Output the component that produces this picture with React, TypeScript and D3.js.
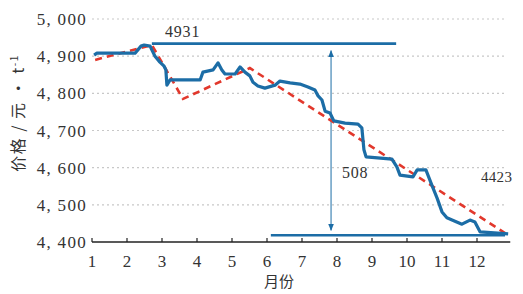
import * as d3 from 'd3';

// 月份 / 价格 (元·t^-1) — 实际价格走势
const priceMonths = [1.06, 1.14, 2.23, 2.31, 2.4, 2.49, 2.66, 2.71, 2.8, 2.94, 3.06, 3.11, 3.14, 3.23, 4.09, 4.17, 4.46, 4.6, 4.71, 4.8, 5.09, 5.23, 5.37, 5.51, 5.6, 5.74, 5.94, 6.23, 6.37, 6.66, 6.94, 7.17, 7.37, 7.46, 7.57, 7.66, 7.8, 7.91, 8.23, 8.6, 8.71, 8.77, 8.83, 9.57, 9.71, 9.8, 10.17, 10.29, 10.54, 10.71, 10.86, 11.0, 11.14, 11.37, 11.57, 11.8, 11.94, 12.09, 12.89];
const priceValues = [4903, 4908, 4908, 4917, 4927, 4930, 4927, 4917, 4900, 4884, 4873, 4863, 4822, 4836, 4836, 4857, 4863, 4882, 4863, 4852, 4852, 4871, 4857, 4847, 4830, 4820, 4814, 4822, 4833, 4828, 4825, 4817, 4809, 4793, 4782, 4752, 4747, 4726, 4720, 4717, 4707, 4648, 4629, 4623, 4602, 4580, 4575, 4594, 4594, 4553, 4518, 4481, 4465, 4456, 4448, 4459, 4454, 4427, 4422];

// 趋势线 (红色虚线)
const trendMonths = [1.09, 2.71, 3.6, 5.51, 12.8];
const trendValues = [4890, 4930, 4785, 4868, 4424];

const yTicks = [4400, 4500, 4600, 4700, 4800, 4900, 5000];
const xTicks = [1, 2, 3, 4, 5, 6, 7, 8, 9, 10, 11, 12];

// 标注
const maxValue = 4931;
const maxSpan = [2.71, 9.69];
const minValue = 4418;
const minSpan = [6.11, 12.8];
const diffMonth = 7.83;
const diffLabel = '508';
const endLabel = '4423';

const BLUE = '#1c6da6';
const RED = '#e2382c';
const TEXT = '#333';
const serif = 'Liberation Serif, DejaVu Serif, Times New Roman, serif';
const cjk = 'Noto Sans CJK SC, sans-serif';

const fmt = (v: number) => d3.format(',')(v).replace(',', ', ');

export default function App() {
  const x = d3.scaleLinear().domain([1, 12]).range([92, 477]);
  const y = d3.scaleLinear().domain([4400, 5000]).range([242, 19]);
  const xEnd = x(12.95);

  const price = priceMonths.map((m, i) => [m, priceValues[i]] as [number, number]);
  const trend = trendMonths.map((m, i) => [m, trendValues[i]] as [number, number]);
  const line = d3.line<[number, number]>().x(d => x(d[0])).y(d => y(d[1]));

  const ax = x(diffMonth);
  const topY = y(maxValue) + 4;
  const botY = y(minValue) - 5;

  return (
    <svg width={523} height={294} style={{ position: 'absolute', left: 0, top: 0, background: '#fff' }}>
      <defs>
        <marker id="ah" viewBox="0 0 10 10" refX="9" refY="5" markerWidth="7" markerHeight="9" orient="auto-start-reverse" markerUnits="userSpaceOnUse">
          <path d="M0,1 L10,5 L0,9 Z" fill={BLUE} />
        </marker>
      </defs>
      {/* 网格线 */}
      {yTicks.filter(t => t > 4400).map(t => (
        <line key={t} x1={x(1)} x2={507} y1={y(t)} y2={y(t)} stroke="#c8c8c8" strokeWidth={1.2} strokeDasharray="2,3" />
      ))}
      {/* Y 轴刻度标签 */}
      {yTicks.map(t => (
        <text key={t} x={87} y={y(t) + 6} textAnchor="end" style={{ fontFamily: serif, fontSize: 17, letterSpacing: 1.3 }} fill={TEXT}>{fmt(t)}</text>
      ))}
      {/* X 轴 */}
      <line x1={x(1)} x2={xEnd} y1={y(4400)} y2={y(4400)} stroke="#222" strokeWidth={1.6} />
      {xTicks.map(t => (
        <g key={t}>
          <line x1={x(t)} x2={x(t)} y1={y(4400)} y2={y(4400) - 4} stroke="#222" strokeWidth={1.2} />
          <text x={x(t)} y={267} textAnchor="middle" style={{ fontFamily: serif, fontSize: 17 }} fill={TEXT}>{t}</text>
        </g>
      ))}
      <text x={279} y={287} textAnchor="middle" style={{ fontFamily: cjk, fontSize: 15 }} fill={TEXT}>月份</text>
      <text transform="translate(24,113) rotate(-90)" textAnchor="middle" style={{ fontFamily: cjk, fontSize: 16, letterSpacing: 1.5 }} fill={TEXT}>
        价格 / 元 · t<tspan style={{ fontSize: 10 }} dy={-6}>-1</tspan>
      </text>

      {/* 最高 / 最低 水平线 */}
      <line x1={x(maxSpan[0])} x2={x(maxSpan[1])} y1={y(maxValue) - 1} y2={y(maxValue) - 1} stroke={BLUE} strokeWidth={2.6} />
      <line x1={x(minSpan[0])} x2={x(minSpan[1])} y1={y(minValue)} y2={y(minValue)} stroke={BLUE} strokeWidth={2.4} />
      <line x1={ax} x2={ax} y1={topY + 2} y2={botY} stroke={BLUE} strokeWidth={1} markerStart="url(#ah)" markerEnd="url(#ah)" />

      {/* 趋势线 */}
      <path d={line(trend) || ''} fill="none" stroke={RED} strokeWidth={2.6} strokeDasharray="7,5" />
      {/* 价格 */}
      <path d={line(price) || ''} fill="none" stroke={BLUE} strokeWidth={3.2} strokeLinejoin="round" />

      <text x={165} y={37} style={{ fontFamily: serif, fontSize: 16, letterSpacing: 0.8 }} fill={TEXT}>{maxValue}</text>
      <text x={342} y={178} style={{ fontFamily: serif, fontSize: 16, letterSpacing: 0.8 }} fill={TEXT}>{diffLabel}</text>
      <text x={481} y={182} style={{ fontFamily: serif, fontSize: 15, letterSpacing: 0.3 }} fill={TEXT}>{endLabel}</text>
    </svg>
  );
}
